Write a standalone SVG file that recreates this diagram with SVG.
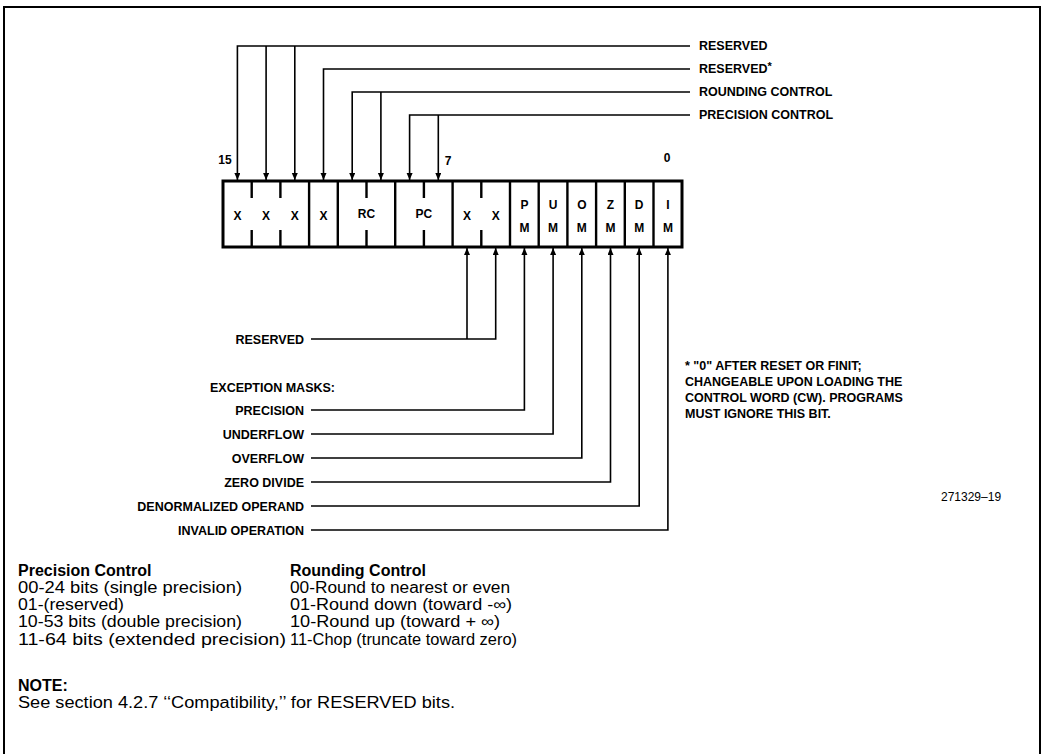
<svg xmlns="http://www.w3.org/2000/svg" width="1042" height="754" viewBox="0 0 1042 754">
<defs>
<marker id="arr" markerUnits="userSpaceOnUse" markerWidth="8" markerHeight="8" refX="7" refY="3" orient="auto">
<path d="M0,0 L7,3 L0,6 z" fill="#000"/>
</marker>
<style>
.lbl{font-family:"Liberation Sans",Arial,sans-serif;font-weight:bold;font-size:12.5px;fill:#000}
.cell{font-family:"Liberation Sans",Arial,sans-serif;font-weight:bold;font-size:12px;fill:#000;text-anchor:middle}
.txt{font-family:"Liberation Sans",Arial,sans-serif;font-size:16px;fill:#000}
.hd{font-family:"Liberation Sans",Arial,sans-serif;font-weight:bold;font-size:16px;fill:#000}
.conn{fill:none;stroke:#000;stroke-width:1.6}
.div{stroke:#000;stroke-width:2.4}
</style>
</defs>
<rect x="0" y="0" width="1042" height="754" fill="#fff"/>
<path d="M4,754 V7 H1040 V754" fill="none" stroke="#000" stroke-width="2"/>

<g id="register">
<rect x="223" y="181" width="459" height="66" fill="#fff" stroke="#000" stroke-width="3"/>
<g class="div">
<line x1="309.1" y1="181" x2="309.1" y2="247"/>
<line x1="337.8" y1="181" x2="337.8" y2="247"/>
<line x1="395.2" y1="181" x2="395.2" y2="247"/>
<line x1="452.6" y1="181" x2="452.6" y2="247"/>
<line x1="510" y1="181" x2="510" y2="247"/>
<line x1="538.7" y1="181" x2="538.7" y2="247"/>
<line x1="567.4" y1="181" x2="567.4" y2="247"/>
<line x1="596.1" y1="181" x2="596.1" y2="247"/>
<line x1="624.8" y1="181" x2="624.8" y2="247"/>
<line x1="653.5" y1="181" x2="653.5" y2="247"/>
<path d="M251.7,181 V198 M251.7,230 V247 M280.4,181 V198 M280.4,230 V247 M366.5,181 V198 M366.5,230 V247 M423.9,181 V198 M423.9,230 V247 M481.3,181 V198 M481.3,230 V247"/>
</g>
<text class="cell" x="237.4" y="219.5">X</text>
<text class="cell" x="266.1" y="219.5">X</text>
<text class="cell" x="294.8" y="219.5">X</text>
<text class="cell" x="323.5" y="219.5">X</text>
<text class="cell" x="366.5" y="218">RC</text>
<text class="cell" x="423.9" y="218">PC</text>
<text class="cell" x="467" y="219.5">X</text>
<text class="cell" x="495.7" y="219.5">X</text>
<text class="cell" x="524.4" y="208.5">P</text>
<text class="cell" x="524.4" y="231.5">M</text>
<text class="cell" x="553.1" y="208.5">U</text>
<text class="cell" x="553.1" y="231.5">M</text>
<text class="cell" x="581.8" y="208.5">O</text>
<text class="cell" x="581.8" y="231.5">M</text>
<text class="cell" x="610.5" y="208.5">Z</text>
<text class="cell" x="610.5" y="231.5">M</text>
<text class="cell" x="639.2" y="208.5">D</text>
<text class="cell" x="639.2" y="231.5">M</text>
<text class="cell" x="667.9" y="208.5">I</text>
<text class="cell" x="667.9" y="231.5">M</text>
<text class="cell" x="225" y="164">15</text>
<text class="cell" x="448" y="165">7</text>
<text class="cell" x="667" y="162">0</text>
</g>

<g id="connectors">
<path class="conn" d="M690,46 H237.4 V180" marker-end="url(#arr)"/>
<path class="conn" d="M266.1,46 V180" marker-end="url(#arr)"/>
<path class="conn" d="M294.8,46 V180" marker-end="url(#arr)"/>
<path class="conn" d="M690,69 H323.5 V180" marker-end="url(#arr)"/>
<path class="conn" d="M690,92 H352.2 V180" marker-end="url(#arr)"/>
<path class="conn" d="M380.9,92 V180" marker-end="url(#arr)"/>
<path class="conn" d="M690,115 H409.6 V180" marker-end="url(#arr)"/>
<path class="conn" d="M438.3,115 V180" marker-end="url(#arr)"/>
<path class="conn" d="M311,339 H495.7 V248" marker-end="url(#arr)"/>
<path class="conn" d="M467,339 V248" marker-end="url(#arr)"/>
<path class="conn" d="M311,410 H524.4 V248" marker-end="url(#arr)"/>
<path class="conn" d="M311,434 H553.1 V248" marker-end="url(#arr)"/>
<path class="conn" d="M311,458 H581.8 V248" marker-end="url(#arr)"/>
<path class="conn" d="M311,482 H610.5 V248" marker-end="url(#arr)"/>
<path class="conn" d="M311,506 H639.2 V248" marker-end="url(#arr)"/>
<path class="conn" d="M311,530 H667.9 V248" marker-end="url(#arr)"/>
</g>

<g id="top-labels">
<text class="lbl" x="699" y="50">RESERVED</text>
<text class="lbl" x="699" y="73">RESERVED<tspan dy="-3" font-size="11">*</tspan></text>
<text class="lbl" x="699" y="96">ROUNDING CONTROL</text>
<text class="lbl" x="699" y="119">PRECISION CONTROL</text>
</g>

<g id="bottom-labels" text-anchor="end">
<text class="lbl" x="304" y="344">RESERVED</text>
<text class="lbl" x="335" y="392">EXCEPTION MASKS:</text>
<text class="lbl" x="304" y="415">PRECISION</text>
<text class="lbl" x="304" y="439">UNDERFLOW</text>
<text class="lbl" x="304" y="463">OVERFLOW</text>
<text class="lbl" x="304" y="487">ZERO DIVIDE</text>
<text class="lbl" x="304" y="511">DENORMALIZED OPERAND</text>
<text class="lbl" x="304" y="535">INVALID OPERATION</text>
</g>

<g id="footnote">
<text class="lbl" x="685" y="370">* "0" AFTER RESET OR FINIT;</text>
<text class="lbl" x="685" y="386">CHANGEABLE UPON LOADING THE</text>
<text class="lbl" x="685" y="402">CONTROL WORD (CW). PROGRAMS</text>
<text class="lbl" x="685" y="418">MUST IGNORE THIS BIT.</text>
</g>

<text id="fig-id" x="941" y="501" font-family="Liberation Sans, Arial, sans-serif" font-size="12" fill="#000">271329–19</text>

<g id="legend">
<text class="hd" x="18" y="576">Precision Control</text>
<text class="txt" x="18" y="593" textLength="224" lengthAdjust="spacingAndGlyphs">00-24 bits (single precision)</text>
<text class="txt" x="18" y="610" textLength="106" lengthAdjust="spacingAndGlyphs">01-(reserved)</text>
<text class="txt" x="18" y="627" textLength="224" lengthAdjust="spacingAndGlyphs">10-53 bits (double precision)</text>
<text class="txt" x="18" y="645" textLength="268" lengthAdjust="spacingAndGlyphs">11-64 bits (extended precision)</text>
<text class="hd" x="290" y="576">Rounding Control</text>
<text class="txt" x="290" y="593" textLength="220" lengthAdjust="spacingAndGlyphs">00-Round to nearest or even</text>
<text class="txt" x="290" y="610" textLength="222" lengthAdjust="spacingAndGlyphs">01-Round down (toward -∞)</text>
<text class="txt" x="290" y="627" textLength="210" lengthAdjust="spacingAndGlyphs">10-Round up (toward + ∞)</text>
<text class="txt" x="290" y="645" textLength="227" lengthAdjust="spacingAndGlyphs">11-Chop (truncate toward zero)</text>
<text class="hd" x="18" y="691">NOTE:</text>
<text class="txt" x="18" y="708" textLength="437" lengthAdjust="spacingAndGlyphs">See section 4.2.7 ‘‘Compatibility,’’ for RESERVED bits.</text>
</g>
</svg>
